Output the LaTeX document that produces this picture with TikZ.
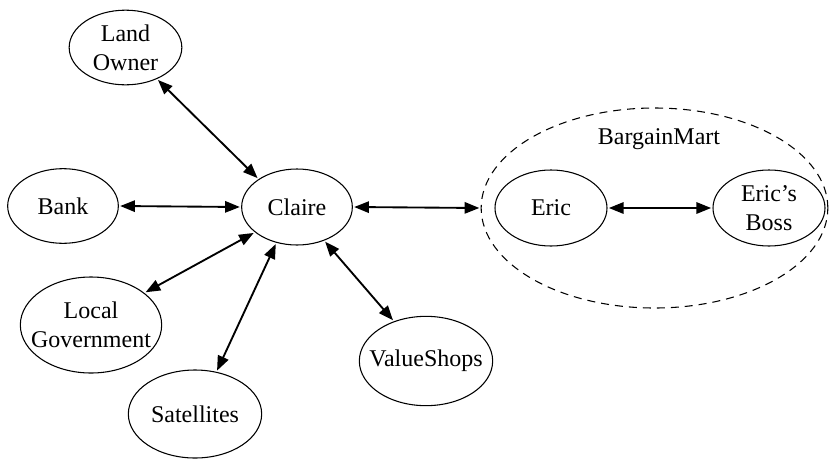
\documentclass[tikz,border=0pt]{standalone}
\usepackage{fontspec}
\setmainfont{Liberation Serif}
\usetikzlibrary{arrows.meta,shapes.geometric}
\begin{document}
\begin{tikzpicture}[x=0.75pt,y=-0.75pt,
  ent/.style={ellipse,draw,line width=0.8pt,inner sep=-14pt,align=center,
    font=\fontsize{18}{22}\selectfont},
  link/.style={line width=1.4pt,{Triangle[length=11pt,width=8.5pt]}-{Triangle[length=11pt,width=8.5pt]},shorten <=1pt,shorten >=1pt}]
\useasboundingbox (0,0) rectangle (836,458);
\node[ent,minimum width=84.5pt,minimum height=56pt] (land) at (125.5,47.5) {Land\\Owner};
\node[ent,minimum width=83pt,minimum height=56pt] (bank) at (63,206) {Bank};
\node[ent,minimum width=83pt,minimum height=57pt] (claire) at (297,207) {Claire};
\node[ent,minimum width=106pt,minimum height=72pt] (gov) at (91,325) {Local\\Government};
\node[ent,minimum width=100pt,minimum height=66pt] (sat) at (195,414) {Satellites};
\node[ent,minimum width=100pt,minimum height=67pt] (vs) at (426,361) {ValueShops};
\node[ellipse,draw,dash pattern=on 6pt off 4.5pt,line width=0.8pt,minimum width=260pt,minimum height=150pt] (bm) at (654.5,208) {};
\node[font=\fontsize{18}{22}\selectfont] (bmlabel) at (659,139) {BargainMart};
\node[ent,minimum width=84pt,minimum height=57pt] (eric) at (551,208) {Eric};
\node[ent,minimum width=84pt,minimum height=57pt] (boss) at (769,208) {Eric’s\\Boss};
\draw[link] (land.-45) -- (claire.144);
\draw[link] (bank.east) -- (claire.west);
\draw[link] (gov.31) -- (claire.211);
\draw[link] (sat.63) -- (claire.240);
\draw[link] (vs.129) -- (claire.-51);
\draw[link] (claire.east) -- (bm.west);
\draw[link] (eric.east) -- (boss.west);
\end{tikzpicture}
\end{document}
